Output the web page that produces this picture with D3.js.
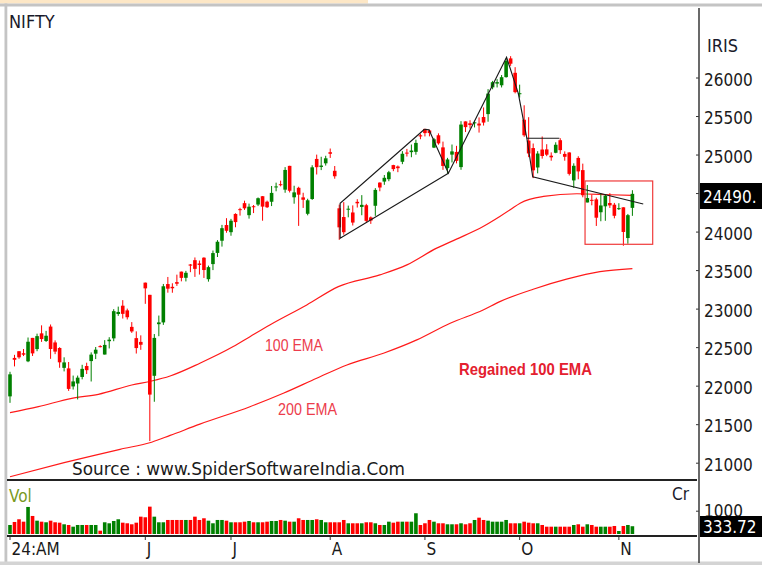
<!DOCTYPE html>
<html>
<head>
<meta charset="utf-8">
<script src="https://cdn.jsdelivr.net/npm/d3@7"></script>
<style>
  html, body { margin: 0; padding: 0; background: #fff; }
  svg { display: block; }
</style>
</head>
<body>
<div id="chart"></div>
<script>
// ---- data (NIFTY daily, Apr 19 -> Nov 6 2024) ----
const open = [21861,22360,22447,22421,22316,22620,22475,22679,22580,22767,
22561,22489,22231,22224,21990,22028,22113,22255,22319,22415,
22513,22404,22577,22614,22930,23038,22977,22763,22617,22568,
23337,23179,22128,22798,22821,23319,23283,23344,23480,23400,
23573,23629,23586,23661,23382,23578,23723,23881,24085,23992,
24229,24291,24369,24213,24329,24351,24459,24388,24387,24573,
24615,24544,24853,24445,24568,24444,24231,24423,24943,24839,
24886,25030,24789,24302,24189,24289,24248,24386,24320,24342,
24184,24335,24636,24649,24680,24863,24845,24906,25025,25031,
25035,25250,25333,25313,25090,25250,25093,24823,24999,25034,
24837,25430,25406,25417,25402,25487,25525,25872,25921,25899,
26005,26248,26061,25788,25452,25181,25084,24832,25065,25067,
24985,25023,25186,25008,25027,24664,24956,24798,24378,24412,
24418,24251,24328,24371,24349,24302,24315,23916,24308];

const high = [22180,22400,22447,22476,22625,22620,22675,22783,22711,22794,
22588,22499,22368,22307,22131,22131,22271,22298,22432,22502,
22525,22591,22629,22993,23026,23110,23000,22825,22705,22653,
23338,23179,22670,22910,23320,23411,23329,23441,23481,23490,
23579,23664,23624,23667,23558,23754,23889,24087,24174,24165,
24237,24309,24401,24363,24345,24443,24461,24402,24592,24635,
24661,24837,24854,24595,24582,24504,24426,24861,24999,24971,
24984,25078,24851,24350,24382,24337,24340,24420,24473,24360,
24196,24564,24639,24734,24788,24867,24858,25044,25073,25130,
25193,25268,25333,25322,25216,25275,25168,24957,25130,25113,
25433,25430,25445,25441,25482,25611,25849,25956,25979,26032,
26250,26277,26134,25907,25639,25485,25143,25044,25234,25134,
25028,25159,25212,25041,25029,24886,24978,24882,24604,24480,
24440,24492,24484,24498,24372,24368,24316,24229,24537];

const low = [21777,22250,22349,22384,22305,22385,22447,22568,22567,22348,
22409,22232,22185,21932,21950,21821,22082,22151,22054,22345,
22496,22404,22483,22577,22906,22871,22859,22685,22417,22465,
23062,21281,21791,22642,22789,23207,23206,23295,23354,23353,
23473,23412,23442,23398,23350,23500,23670,23805,23985,23946,
24056,24207,24281,24168,24240,24331,24141,24306,24331,24523,
24587,24504,24508,24362,24074,24307,24211,24411,24741,24798,
24857,24956,24686,23893,23960,24185,24079,24312,24212,24116,
24100,24204,24523,24607,24654,24784,24771,24875,24974,24965,
24998,25199,25235,25236,25084,25128,24801,24753,24897,24885,
24802,25292,25336,25352,25285,25376,25426,25847,25871,25871,
25998,26151,25794,25739,25230,24966,24694,24756,24947,24979,
24920,25017,25008,24920,24728,24567,24679,24445,24378,24341,
24073,24134,24140,24307,24172,24280,23816,23842,24204];

const close = [22147,22336,22368,22402,22570,22419,22643,22605,22648,22476,
22442,22303,22302,21958,22055,22104,22218,22201,22403,22467,
22502,22529,22597,22967,22957,22932,22888,22704,22488,22531,
23263,21884,22620,22821,23290,23259,23264,23323,23399,23465,
23558,23516,23567,23501,23538,23721,23868,24044,24010,24141,
24123,24286,24302,24323,24320,24433,24324,24316,24502,24586,
24613,24800,24530,24509,24479,24413,24406,24834,24836,24857,
24951,25010,24718,24055,23992,24297,24117,24367,24347,24139,
24143,24541,24572,24698,24770,24811,24823,25010,25017,25052,
25151,25235,25278,25279,25198,25145,24852,24936,25041,24918,
25389,25356,25383,25418,25377,25415,25791,25939,25940,26004,
26216,26179,25810,25796,25250,25014,24795,25013,24981,24998,
24964,25127,25057,24971,24749,24854,24781,24472,24435,24399,
24180,24339,24466,24340,24205,24304,23995,24213,24490];

// volume, Rs Cr
const volume = [387,516,632,529,1161,774,572,529,503,572,
503,486,417,387,314,387,387,387,387,387,
142,503,460,559,632,486,460,417,486,744,
718,1174,744,503,503,602,602,602,602,602,
602,744,602,675,572,460,602,602,572,503,
503,503,529,559,503,503,503,529,559,559,
602,572,529,529,675,602,602,602,632,602,
503,503,503,503,602,460,460,460,460,503,
503,460,387,387,529,486,529,529,529,529,
890,387,460,602,529,460,460,417,417,417,
460,417,460,602,701,602,572,529,529,529,
602,460,460,460,529,486,460,460,387,314,
314,314,314,314,314,387,417,314,417,387,
314,314,314,314,344,129,344,387,333.72];

// moving averages [bar index, value]
const ema100 = [[0,21649],[6.3,21727],[13.7,21836],[19.6,21888],[27,22009],[31.4,22061],
[35.5,22126],[42.1,22291],[49.5,22507],[53.2,22636],[57.6,22788],[65.8,23048],[72.8,23286],
[82,23438],[88,23568],[94.6,23785],[99,23902],[104.9,24066],[108.6,24196],[110.9,24283],
[113.1,24369],[118.3,24456],[125.7,24491],[133,24478],[138,24469]];
const ema200 = [[0,20818],[12,21000],[24.4,21174],[31.4,21266],[35.5,21354],[42.1,21500],[53.2,21727],
[60.6,21901],[68,22096],[74.7,22269],[82.8,22421],[90.2,22594],[97.6,22810],[104.9,22983],
[108.6,23091],[116,23252],[123.4,23382],[130.8,23480],[138,23519]];

// drawn studies [bar index, value]
const channelLine = [[91.9,25328],[73.2,24367],[73.2,23913],[97.2,24757]];
const zigzag = [[91.9,25328],[92.9,25320],[97.2,24757],[110.1,26262],[112.7,25795],
[114.6,25211],[115.9,24712],[140.4,24358]];
const flatTop = [[114.6,25211],[121.8,25211]];
const boxCorners = [[127.5,24657],[142.5,23835]];

const priceTicks = [21000,21500,22000,22500,23000,23500,24000,24500,25000,25500,26000];
const hiddenTick = 24500; // sits under the last-price box
const monthIndex = [0,30,49,71,92,113,135];
const monthLabels = ['24:AM','J','J','A','S','O','N'];

// ---- constants ----
const width = 762;
const height = 565;
const font = '"DejaVu Sans Condensed", "DejaVu Sans", sans-serif';
const up = '#008000';
const down = '#ff0000';
const axisX = 699;
const paneBottom = 480;
const volBottom = 536;

const xScale = d3.scaleLinear().domain([0, 138]).range([10, 632.4]);
const yScale = d3.scaleLinear().domain([21000, 26000]).range([462.7, 77.5]);
const vScale = d3.scaleLinear().domain([0, 1000]).range([534, 510.7]);

const svg = d3.select('#chart').append('svg')
    .attr('width', width)
    .attr('height', height)
    .style('font-family', font);

// frame
svg.append('rect').attr('x', 0).attr('y', 0).attr('width', 368).attr('height', 3.5).attr('fill', '#fde7c6');
svg.append('rect').attr('x', 0).attr('y', 3.5).attr('width', width).attr('height', 3).attr('fill', '#c4c4c4');
svg.append('rect').attr('x', 4.5).attr('y', 3.5).attr('width', 2.8).attr('height', height).attr('fill', '#c4c4c4');
svg.append('rect').attr('x', 0).attr('y', 561.5).attr('width', width).attr('height', 3.5).attr('fill', '#d4d4d4');

svg.append('clipPath').attr('id', 'pane')
  .append('rect').attr('x', 7).attr('y', 7).attr('width', axisX - 8).attr('height', paneBottom - 8);

const pane = svg.append('g').attr('clip-path', 'url(#pane)');

// EMAs
const emaLine = d3.line().x(d => xScale(d[0])).y(d => yScale(d[1])).curve(d3.curveMonotoneX);
[ema100, ema200].forEach(e => {
  pane.append('path').datum(e)
    .attr('d', emaLine)
    .attr('fill', 'none')
    .attr('stroke', '#ff1a1a')
    .attr('stroke-width', 1.2);
});

// candles
const bars = d3.range(open.length);
const candle = pane.selectAll('.candle').data(bars).join('g').attr('class', 'candle');
candle.append('line')
  .attr('x1', i => xScale(i)).attr('x2', i => xScale(i))
  .attr('y1', i => yScale(high[i])).attr('y2', i => yScale(low[i]))
  .attr('stroke', i => close[i] >= open[i] ? up : down)
  .attr('stroke-width', 1);
candle.append('rect')
  .attr('x', i => xScale(i) - 1.8)
  .attr('y', i => yScale(Math.max(open[i], close[i])))
  .attr('width', 3.6)
  .attr('height', i => Math.max(1, Math.abs(yScale(open[i]) - yScale(close[i]))))
  .attr('fill', i => close[i] >= open[i] ? up : down);

// studies
const studyLine = d3.line().x(d => xScale(d[0])).y(d => yScale(d[1]));
[channelLine, zigzag, flatTop].forEach(p => {
  pane.append('path').datum(p)
    .attr('d', studyLine)
    .attr('fill', 'none')
    .attr('stroke', '#1a1a1a')
    .attr('stroke-width', 1.15);
});
pane.append('rect')
  .attr('x', xScale(boxCorners[0][0]))
  .attr('y', yScale(boxCorners[0][1]))
  .attr('width', xScale(boxCorners[1][0]) - xScale(boxCorners[0][0]))
  .attr('height', yScale(boxCorners[1][1]) - yScale(boxCorners[0][1]))
  .attr('fill', 'none')
  .attr('stroke', '#f03a3a')
  .attr('stroke-width', 1.2);

// volume
svg.append('g').selectAll('rect').data(bars).join('rect')
  .attr('x', i => xScale(i) - 1.8)
  .attr('y', i => vScale(volume[i]))
  .attr('width', 3.6)
  .attr('height', i => vScale(0) - vScale(volume[i]))
  .attr('fill', i => close[i] >= open[i] ? up : down);

// pane separators
[paneBottom, volBottom].forEach(yy => {
  svg.append('rect').attr('x', 7).attr('y', yy - 1).attr('width', axisX - 9).attr('height', 2).attr('fill', '#222');
});

// price axis
const yAxis = svg.append('g')
  .attr('transform', `translate(${axisX},0)`)
  .call(d3.axisRight(yScale).tickValues(priceTicks).tickSizeInner(-3).tickSizeOuter(0).tickPadding(5)
    .tickFormat(d => d === hiddenTick ? '' : d3.format('d')(d)));
yAxis.select('.domain').remove();
yAxis.selectAll('.tick line').attr('stroke', '#333');
yAxis.selectAll('.tick text')
  .attr('dy', '0.45em')
  .style('font-family', font)
  .style('font-size', '17px')
  .attr('fill', '#1a1a1a');

// volume axis
const vAxis = svg.append('g')
  .attr('transform', `translate(${axisX},0)`)
  .call(d3.axisRight(vScale).tickValues([1000]).tickSizeInner(-3).tickSizeOuter(0).tickPadding(5).tickFormat(d3.format('d')));
vAxis.select('.domain').remove();
vAxis.selectAll('.tick line').attr('stroke', '#333');
vAxis.selectAll('.tick text').attr('dy', '0.32em').style('font-family', font).style('font-size', '17px').attr('fill', '#1a1a1a');

svg.append('line')
  .attr('x1', axisX).attr('x2', axisX).attr('y1', 8).attr('y2', 563)
  .attr('stroke', '#444').attr('stroke-width', 1.6);

// last value boxes
const last = close.length - 1;
svg.append('rect').attr('x', 700).attr('y', 183).attr('width', 62).attr('height', 26).attr('fill', '#000');
svg.append('text').attr('x', 703).attr('y', 203)
  .style('font-size', '17px').attr('fill', '#fff')
  .text(Math.floor(close[last]) + '.');
svg.append('rect').attr('x', 700).attr('y', 516).attr('width', 62).attr('height', 21).attr('fill', '#000');
svg.append('text').attr('x', 703).attr('y', 533)
  .style('font-size', '17px').attr('fill', '#fff')
  .text(d3.format('.2f')(volume[last]));

// month labels
monthIndex.forEach((m, k) => {
  svg.append('line')
    .attr('x1', xScale(m)).attr('x2', xScale(m)).attr('y1', volBottom + 1).attr('y2', volBottom + 4)
    .attr('stroke', '#333');
  svg.append('text')
    .attr('x', xScale(m) + 1.5).attr('y', 555)
    .style('font-size', '17px').attr('fill', '#1a1a1a')
    .text(monthLabels[k]);
});

// labels
const label = (x, y, t, size, fill, extra) => {
  const n = svg.append('text').attr('x', x).attr('y', y)
    .style('font-size', size).attr('fill', fill).text(t);
  if (extra) extra(n);
  return n;
};
label(9, 28, 'NIFTY', '18px', '#1a1a2a');
label(707, 51.5, 'IRIS', '18px', '#1a1a2a');
label(9, 502, 'Vol', '17px', '#7a9a1e');
label(672, 500, 'Cr', '17px', '#1a1a2a');
label(72, 475, 'Source : www.SpiderSoftwareIndia.Com', '17px', '#1a1a1a',
  n => n.attr('textLength', 333).attr('lengthAdjust', 'spacingAndGlyphs'));

const noteFont = '"Liberation Sans", Arial, sans-serif';
label(265, 351, '100 EMA', '16.5px', '#ec3c4c',
  n => n.style('font-family', noteFont).attr('textLength', 58).attr('lengthAdjust', 'spacingAndGlyphs'));
label(278, 414.5, '200 EMA', '16.5px', '#ec3c4c',
  n => n.style('font-family', noteFont).attr('textLength', 59).attr('lengthAdjust', 'spacingAndGlyphs'));
label(459, 375, 'Regained 100 EMA', '16.5px', '#e4202f',
  n => n.style('font-family', noteFont).style('font-weight', 'bold').attr('textLength', 133).attr('lengthAdjust', 'spacingAndGlyphs'));
</script>
</body>
</html>
